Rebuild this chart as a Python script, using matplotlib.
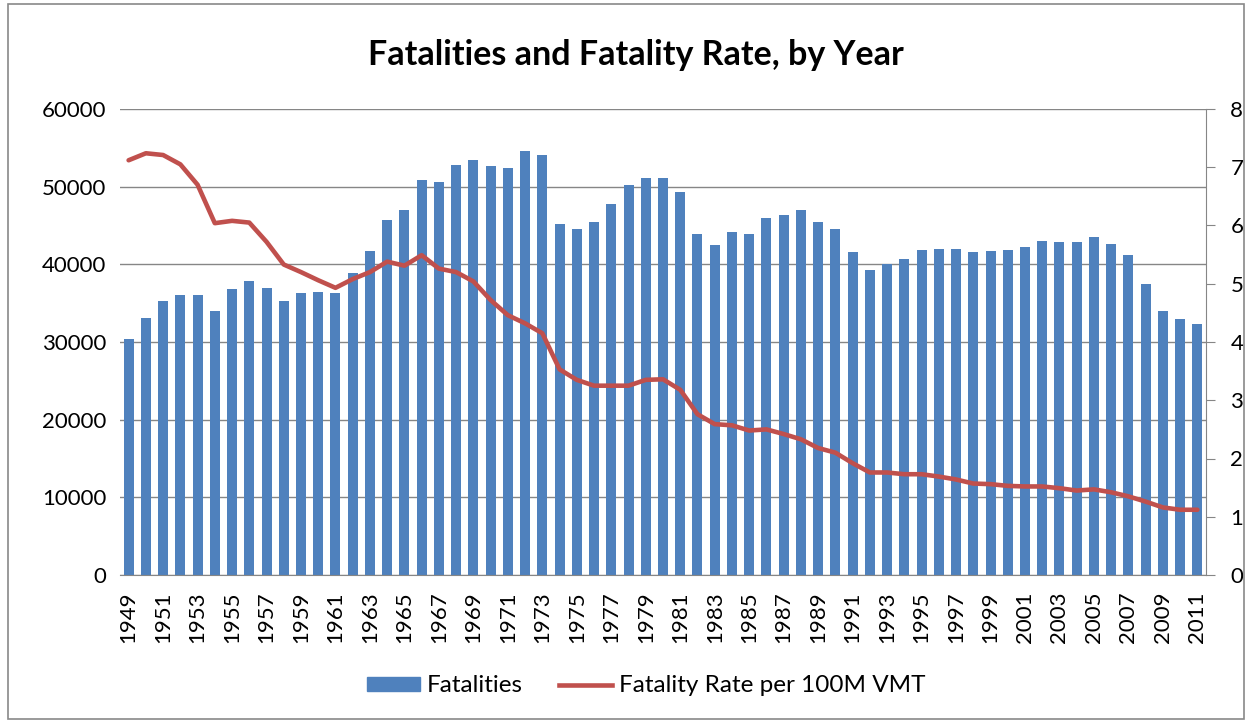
import matplotlib.pyplot as plt
from matplotlib.patches import Rectangle
from matplotlib.lines import Line2D
import numpy as np

plt.rcParams['font.family'] = ['Lato', 'DejaVu Sans']

years = list(range(1949, 2012))
fatalities = [30350, 33130, 35240, 36100, 36100, 33950, 36780, 37900, 36910, 35240,
              36270, 36400, 36270, 38890, 41720, 45670, 47000, 50820, 50640, 52750,
              53400, 52620, 52450, 54550, 54080, 45160, 44510, 45500, 47810, 50260,
              51120, 51120, 49270, 43870, 42530, 44160, 43870, 46010, 46310, 47000,
              45500, 44510, 41550, 39230, 40040, 40690, 41850, 42020, 42020, 41550,
              41680, 41850, 42190, 43000, 42830, 42830, 43520, 42660, 41200, 37430,
              33950, 32920, 32280]
rate = [7.12, 7.24, 7.21, 7.05, 6.70, 6.04, 6.08, 6.05, 5.72, 5.33,
        5.20, 5.06, 4.93, 5.08, 5.20, 5.38, 5.31, 5.49, 5.26, 5.20,
        5.04, 4.72, 4.46, 4.32, 4.15, 3.53, 3.35, 3.25, 3.25, 3.25,
        3.35, 3.36, 3.18, 2.76, 2.59, 2.57, 2.48, 2.50, 2.42, 2.33,
        2.18, 2.10, 1.92, 1.76, 1.76, 1.73, 1.73, 1.69, 1.64, 1.57,
        1.56, 1.53, 1.52, 1.52, 1.49, 1.45, 1.47, 1.42, 1.35, 1.26,
        1.16, 1.12, 1.12]

bar_color = '#4F81BD'
line_color = '#C0504D'
grid_color = '#868686'

fig = plt.figure(figsize=(12.52, 7.23), dpi=100)
fig.patches.append(Rectangle((0.006, 0.006), 0.988, 0.988, transform=fig.transFigure,
                             fill=False, edgecolor='#898989', lw=1.2))

W, H = 1252, 723
ax = fig.add_axes([120 / W, (H - 575) / H, (1206 - 120) / W, (575 - 109) / H])
ax.bar(years, fatalities, width=0.58, color=bar_color, zorder=2)
ax.set_xlim(1948.5, 2011.5)
ax.set_ylim(0, 60000)
ax.set_yticks(range(0, 60001, 10000))
ax.grid(axis='y', color=grid_color, lw=1.0, zorder=0)
ax.set_xticks(years[::2])
ax.set_xticklabels([str(y) for y in years[::2]], rotation=90, fontsize=16)
ax.tick_params(axis='x', length=0, pad=12)
ax.tick_params(axis='y', length=0, labelsize=16, pad=10)
for s in ['top', 'left', 'right']:
    ax.spines[s].set_visible(False)
ax.spines['bottom'].set_color(grid_color)

ax2 = ax.twinx()
ax2.plot(years, rate, color=line_color, lw=3.3, solid_capstyle='round', zorder=3)
ax2.set_ylim(0, 8)
ax2.set_yticks(range(0, 9))
ax2.tick_params(axis='y', length=6.5, color=grid_color, labelsize=16, pad=11)
for s in ['top', 'left', 'bottom']:
    ax2.spines[s].set_visible(False)
ax2.spines['right'].set_color(grid_color)

fig.text(636 / W, 1 - 55 / H, 'Fatalities and Fatality Rate, by Year',
         ha='center', va='center', fontsize=24.5, fontweight='bold')

handles = [Rectangle((0, 0), 1, 1, color=bar_color),
           Line2D([0], [0], color=line_color, lw=3.3)]
fig.legend(handles, ['Fatalities', 'Fatality Rate per 100M VMT'], ncol=2,
           loc='center', bbox_to_anchor=(646 / W, 1 - 686 / H), frameon=False,
           fontsize=17.5, handlelength=2.2, handleheight=0.5, columnspacing=1.5,
           handletextpad=0.25)

plt.savefig('out.png', dpi=100)
